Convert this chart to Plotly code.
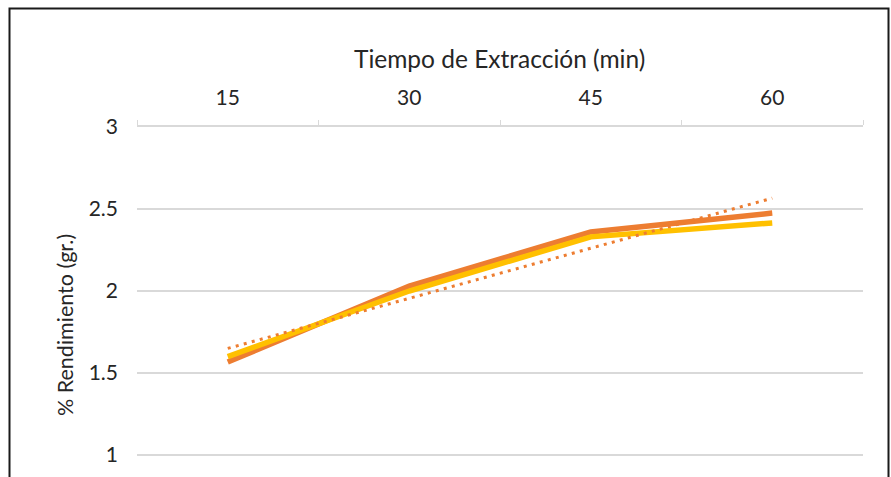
import numpy as np
import plotly.graph_objects as go

# Data
categories = ["15", "30", "45", "60"]
serie_naranja = [1.567, 2.03, 2.36, 2.475]
serie_amarilla = [1.60, 2.00, 2.33, 2.415]
y_ticks = [1, 1.5, 2, 2.5, 3]
y_tick_labels = ["1", "1.5", "2", "2.5", "3"]

# Linear trendline of the orange series (as Excel does)
xi = np.arange(1, len(categories) + 1)
coef = np.polyfit(xi, serie_naranja, 1)
tendencia = list(np.polyval(coef, xi))

FONT = "Lato"
TXT = "#262626"

fig = go.Figure()
fig.add_trace(go.Scatter(x=categories, y=serie_naranja, mode="lines",
                         line=dict(color="#ED7D31", width=5.5), showlegend=False))
fig.add_trace(go.Scatter(x=categories, y=serie_amarilla, mode="lines",
                         line=dict(color="#FFC000", width=5.5), showlegend=False))
fig.add_trace(go.Scatter(x=categories, y=tendencia, mode="lines",
                         line=dict(color="#ED7D31", width=3, dash="3px,5.3px"), showlegend=False))

W, H = 891, 477
L, R, T, B = 137, 28, 127, 0
pw, ph = W - L - R, H - T - B

def px_x(p):
    return (p - L) / pw

def px_y(p):
    return (H - B - p) / ph

fig.update_layout(
    width=W, height=H,
    margin=dict(l=L, r=R, t=T, b=B, autoexpand=False),
    paper_bgcolor="white", plot_bgcolor="white",
    font=dict(family=FONT, size=20, color=TXT),
    xaxis=dict(type="category", side="top", range=[-0.5, len(categories) - 0.5],
               showline=True, linecolor="#d9d9d9", linewidth=1.5, automargin=False,
               ticks="outside", tickson="boundaries", ticklen=5, tickcolor="#d9d9d9",
               showgrid=False, zeroline=False, ticklabelstandoff=12,
               tickfont=dict(family=FONT, size=21, color=TXT)),
    yaxis=dict(range=[1 - 22 / 164, 3], tickvals=y_ticks, ticktext=y_tick_labels,
               showgrid=True, gridcolor="#d9d9d9", gridwidth=1.5, zeroline=False,
               showline=False, ticks="", ticklabelstandoff=18, automargin=False,
               tickfont=dict(family=FONT, size=21, color=TXT)),
    annotations=[
        dict(text="Tiempo de Extracción (min)", xref="paper", yref="paper",
             x=px_x(499), y=px_y(58), showarrow=False,
             font=dict(family=FONT, size=24.5, color=TXT), xanchor="center", yanchor="middle"),
        dict(text="% Rendimiento (gr.)", xref="paper", yref="paper",
             x=px_x(65), y=px_y(325), showarrow=False, textangle=-90,
             font=dict(family=FONT, size=21.5, color=TXT), xanchor="center", yanchor="middle"),
    ],
    shapes=[
        dict(type="rect", xref="paper", yref="paper",
             x0=px_x(9.5), x1=px_x(888.5), y0=px_y(520), y1=px_y(8.5),
             line=dict(color="#1a1a1a", width=2), fillcolor="rgba(0,0,0,0)", layer="above"),
    ],
)

fig.write_html("out.html", config={"displayModeBar": False},
               post_script="document.body.style.margin='0';document.body.style.overflow='hidden';")
